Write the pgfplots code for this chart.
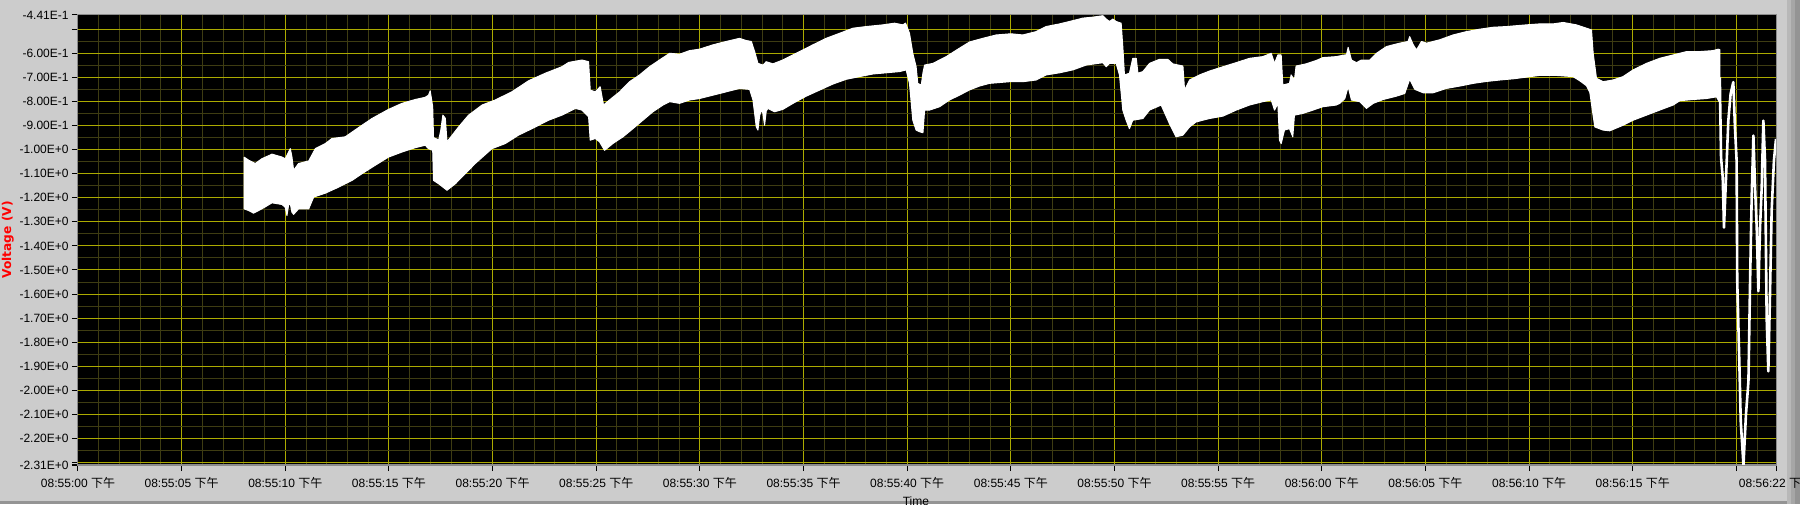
\documentclass[border=0pt]{standalone}
\usepackage{fontspec}
\setmainfont{Liberation Sans}
\newfontfamily\cjk{Noto Sans CJK SC}
\newfontfamily\dvs{DejaVu Sans}
\usepackage{pgfplots}
\usepackage{pgfplotstable}
\pgfplotsset{compat=1.18}
\definecolor{panel}{RGB}{204,204,204}
\definecolor{gmaj}{RGB}{172,170,0}
\definecolor{gmin}{RGB}{62,60,18}
\definecolor{frA}{RGB}{184,184,184}
\definecolor{frB}{RGB}{166,166,166}
\definecolor{frC}{RGB}{148,148,148}
\definecolor{axl}{RGB}{140,140,140}
\newcommand{\xl}[1]{#1 {\cjk 下午}}

% band outline: upper envelope left to right, then lower envelope right to left
\pgfplotstableread{
t v
8.01 -1.031
8.23 -1.044
8.55 -1.058
8.87 -1.038
9.36 -1.019
9.84 -1.031
10.00 -1.038
10.24 -0.996
10.32 -1.030
10.40 -1.086
10.64 -1.058
11.13 -1.047
11.45 -0.996
11.93 -0.975
12.25 -0.954
12.89 -0.947
13.70 -0.899
14.18 -0.871
14.98 -0.833
15.63 -0.808
16.27 -0.792
16.75 -0.783
16.91 -0.774
16.99 -0.756
17.11 -0.822
17.15 -0.950
17.40 -0.960
17.50 -0.920
17.60 -0.857
17.72 -0.870
17.80 -0.968
18.36 -0.906
18.84 -0.857
19.49 -0.815
20.13 -0.794
20.93 -0.760
21.74 -0.714
22.54 -0.683
23.34 -0.656
23.67 -0.638
24.31 -0.628
24.63 -0.635
24.71 -0.753
24.95 -0.760
25.19 -0.739
25.35 -0.815
25.64 -0.794
26.13 -0.760
26.61 -0.718
27.09 -0.690
27.57 -0.656
28.05 -0.628
28.54 -0.600
29.02 -0.604
29.50 -0.589
29.98 -0.583
30.63 -0.565
31.27 -0.551
31.91 -0.538
32.23 -0.547
32.48 -0.551
32.64 -0.593
32.80 -0.642
33.04 -0.649
33.20 -0.635
33.52 -0.644
34.00 -0.628
34.81 -0.593
35.45 -0.565
36.09 -0.538
36.74 -0.517
37.38 -0.496
38.02 -0.489
38.83 -0.482
39.39 -0.475
39.79 -0.482
39.92 -0.475
40.11 -0.517
40.27 -0.600
40.43 -0.656
40.51 -0.725
40.68 -0.732
40.76 -0.681
40.84 -0.649
41.24 -0.642
41.88 -0.614
42.52 -0.579
43.01 -0.553
43.65 -0.538
44.29 -0.524
45.00 -0.519
45.58 -0.524
46.22 -0.510
46.70 -0.489
47.35 -0.478
47.83 -0.468
48.47 -0.454
48.96 -0.450
49.44 -0.444
49.60 -0.458
49.76 -0.468
49.92 -0.458
50.08 -0.468
50.32 -0.475
50.40 -0.572
50.48 -0.690
50.72 -0.683
50.88 -0.621
51.05 -0.621
51.13 -0.683
51.37 -0.676
51.69 -0.642
52.17 -0.625
52.57 -0.625
52.81 -0.644
53.30 -0.653
53.38 -0.753
53.62 -0.711
54.10 -0.690
54.58 -0.674
55.23 -0.656
55.87 -0.639
56.51 -0.621
57.15 -0.614
57.56 -0.600
57.72 -0.642
57.88 -0.607
58.04 -0.607
58.12 -0.732
58.44 -0.725
58.52 -0.690
58.68 -0.711
58.76 -0.653
59.24 -0.644
59.73 -0.630
60.05 -0.618
60.69 -0.614
61.11 -0.607
61.19 -0.607
61.27 -0.575
61.43 -0.628
61.67 -0.639
61.91 -0.628
62.32 -0.628
62.64 -0.600
63.12 -0.572
63.76 -0.558
64.16 -0.551
64.24 -0.531
64.41 -0.565
64.57 -0.586
64.81 -0.551
65.05 -0.558
65.69 -0.544
66.33 -0.524
66.98 -0.510
67.62 -0.500
68.26 -0.492
68.91 -0.489
69.87 -0.482
70.51 -0.478
71.16 -0.478
71.64 -0.472
72.28 -0.482
72.77 -0.496
73.01 -0.503
73.09 -0.600
73.25 -0.704
73.57 -0.718
74.05 -0.711
74.53 -0.697
75.02 -0.669
75.66 -0.642
76.30 -0.621
76.95 -0.607
77.59 -0.593
78.23 -0.593
78.87 -0.589
79.12 -0.583
79.20 -0.585
79.20 -0.796
79.16 -0.800
79.04 -0.781
78.55 -0.788
77.91 -0.792
77.27 -0.797
76.95 -0.815
76.30 -0.836
75.66 -0.857
75.02 -0.878
74.53 -0.899
73.89 -0.922
73.57 -0.919
73.17 -0.906
73.05 -0.836
72.93 -0.763
72.77 -0.735
72.44 -0.714
72.12 -0.697
71.32 -0.692
70.51 -0.692
69.87 -0.699
69.23 -0.706
68.59 -0.711
67.94 -0.717
67.30 -0.725
66.66 -0.736
66.01 -0.746
65.37 -0.764
64.89 -0.764
64.49 -0.750
64.24 -0.708
64.00 -0.767
63.60 -0.778
62.96 -0.792
62.48 -0.808
62.15 -0.829
61.83 -0.801
61.43 -0.794
61.27 -0.739
61.11 -0.788
60.87 -0.808
60.69 -0.815
60.05 -0.822
59.57 -0.836
59.08 -0.850
58.68 -0.857
58.60 -0.947
58.44 -0.913
58.20 -0.919
58.04 -0.975
57.96 -0.961
57.88 -0.808
57.72 -0.836
57.56 -0.794
57.15 -0.801
56.51 -0.815
55.87 -0.836
55.23 -0.861
54.58 -0.871
53.94 -0.885
53.62 -0.906
53.30 -0.940
52.97 -0.947
52.65 -0.892
52.25 -0.815
51.69 -0.836
51.37 -0.871
50.88 -0.878
50.72 -0.913
50.56 -0.878
50.40 -0.836
50.24 -0.690
50.08 -0.642
49.76 -0.642
49.60 -0.656
49.44 -0.639
48.63 -0.649
47.99 -0.669
47.35 -0.681
46.70 -0.690
46.22 -0.711
45.58 -0.718
44.94 -0.718
43.97 -0.725
43.49 -0.736
43.01 -0.752
42.52 -0.774
42.04 -0.794
41.56 -0.822
41.08 -0.836
40.84 -0.836
40.76 -0.930
40.60 -0.926
40.43 -0.919
40.27 -0.878
40.11 -0.725
39.95 -0.669
39.63 -0.676
38.99 -0.681
38.34 -0.686
37.70 -0.697
37.06 -0.708
36.41 -0.728
35.77 -0.753
35.13 -0.778
34.49 -0.808
34.00 -0.833
33.60 -0.843
33.28 -0.829
33.20 -0.840
33.12 -0.899
33.04 -0.850
32.96 -0.836
32.88 -0.860
32.80 -0.919
32.72 -0.906
32.56 -0.794
32.40 -0.750
31.91 -0.746
31.27 -0.760
30.63 -0.774
29.98 -0.788
29.50 -0.794
29.02 -0.808
28.54 -0.801
28.22 -0.815
27.73 -0.843
27.25 -0.878
26.77 -0.913
26.29 -0.947
25.80 -0.975
25.40 -1.003
25.16 -0.968
24.95 -0.954
24.71 -0.961
24.63 -0.864
24.31 -0.836
23.99 -0.829
23.34 -0.857
22.70 -0.878
21.90 -0.913
21.25 -0.940
20.61 -0.975
19.97 -0.996
19.16 -1.058
18.68 -1.100
18.20 -1.142
17.80 -1.169
17.40 -1.142
17.15 -1.128
17.11 -1.003
16.91 -0.996
16.75 -0.982
16.27 -0.992
15.63 -1.010
14.98 -1.031
14.34 -1.065
13.70 -1.100
13.22 -1.128
12.57 -1.156
11.93 -1.181
11.37 -1.197
11.13 -1.246
10.64 -1.246
10.40 -1.269
10.32 -1.260
10.24 -1.225
10.16 -1.230
10.08 -1.274
10.00 -1.240
9.84 -1.228
9.36 -1.221
8.87 -1.246
8.47 -1.264
8.23 -1.253
8.01 -1.246
8.01 -1.031
}\band

\pgfplotstableread{
t v
79.20 -0.700
79.21 -0.769
79.26 -1.033
79.34 -1.116
79.40 -1.324
79.50 -1.116
79.61 -0.880
79.72 -0.769
79.85 -0.720
79.93 -0.908
80.01 -1.046
80.04 -1.546
80.14 -1.880
80.21 -2.130
80.34 -2.310
80.46 -2.102
80.58 -1.963
80.66 -1.546
80.74 -1.185
80.82 -0.942
80.90 -1.158
80.98 -1.324
81.06 -1.588
81.14 -1.324
81.22 -1.158
81.30 -0.880
81.38 -1.046
81.46 -1.699
81.54 -1.921
81.62 -1.602
81.70 -1.255
81.81 -1.046
81.91 -0.956
}\tailtab

\begin{document}
\begin{tikzpicture}
\fill[panel] (0,0) rectangle (900pt,252pt);
\begin{scope}[shift={(0,252pt)}, x=0.5pt, y=-0.5pt]
\fill[frA] (1787,0) rectangle (1791,504);
\fill[frB] (1791,0) rectangle (1795,504);
\fill[frC] (1795,0) rectangle (1800,504);
\fill[frC] (0,501) rectangle (1787,504);
\end{scope}
\begin{axis}[
  at={(39pt,19.5pt)}, anchor=south west,
  scale only axis, width=849pt, height=225pt,
  xmin=0, xmax=81.91, ymin=-2.31, ymax=-0.441,
  axis background/.style={fill=black},
  axis line style={draw=axl, line width=0.5pt},
  tick align=outside, tick pos=left,
  major tick length=3pt, minor tick length=0pt,
  tick style={black, line width=0.5pt},
  xtick={0,5,10,15,20,25,30,35,40,45,50,55,60,65,70,75,80,81.91},
  xticklabels={\xl{08:55:00},\xl{08:55:05},\xl{08:55:10},\xl{08:55:15},\xl{08:55:20},\xl{08:55:25},\xl{08:55:30},\xl{08:55:35},\xl{08:55:40},\xl{08:55:45},\xl{08:55:50},\xl{08:55:55},\xl{08:56:00},\xl{08:56:05},\xl{08:56:10},\xl{08:56:15},,\xl{08:56:22}},
  minor xtick={0,1,...,81},
  ytick={-2.31,-2.3,-2.2,-2.1,-2.0,-1.9,-1.8,-1.7,-1.6,-1.5,-1.4,-1.3,-1.2,-1.1,-1.0,-0.9,-0.8,-0.7,-0.6,-0.5,-0.441},
  yticklabels={-2.31E+0,,-2.20E+0,-2.10E+0,-2.00E+0,-1.90E+0,-1.80E+0,-1.70E+0,-1.60E+0,-1.50E+0,-1.40E+0,-1.30E+0,-1.20E+0,-1.10E+0,-1.00E+0,-9.00E-1,-8.00E-1,-7.00E-1,-6.00E-1,,-4.41E-1},
  minor ytick={-2.25,-2.15,-2.05,-1.95,-1.85,-1.75,-1.65,-1.55,-1.45,-1.35,-1.25,-1.15,-1.05,-0.95,-0.85,-0.75,-0.65,-0.55},
  xmajorgrids, ymajorgrids, xminorgrids, yminorgrids,
  major grid style={gmaj, line width=0.5pt},
  minor grid style={gmin, line width=0.5pt},
  xticklabel style={font=\fontsize{6pt}{7pt}\selectfont, inner sep=0pt, text=black},
  yticklabel style={font=\fontsize{6pt}{7pt}\selectfont, inner sep=0pt, text=black},
  xticklabel shift=3pt, yticklabel shift=1.5pt,
  xlabel={Time},
  xlabel style={at={(axis description cs:0.4935,-0.0689)}, anchor=north, inner sep=0pt, font=\fontsize{6pt}{7pt}\selectfont},
  ylabel={Voltage (V)},
  ylabel style={at={(axis description cs:-0.04505,0.5)}, anchor=north, inner sep=0pt, text=red, font=\dvs\bfseries\fontsize{6.1pt}{7pt}\selectfont},
]
\addplot[draw=white, fill=white, line width=0.5pt, line join=round] table[x=t, y=v] {\band};
\addplot[white, line width=1.3pt, line join=round] table[x=t, y=v] {\tailtab};
\end{axis}
\pgfresetboundingbox
\useasboundingbox (0,0) rectangle (900pt,252pt);
\end{tikzpicture}
\end{document}
